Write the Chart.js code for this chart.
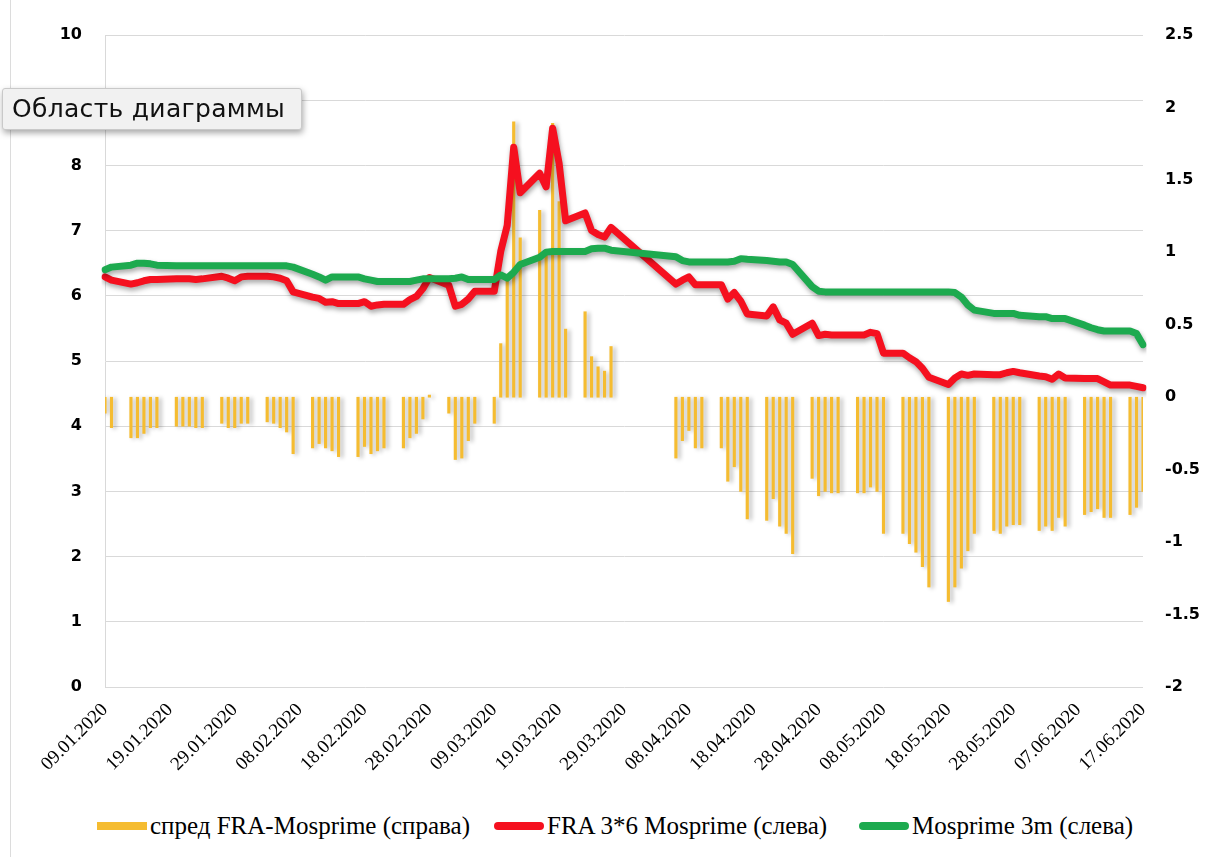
<!DOCTYPE html>
<html>
<head>
<meta charset="utf-8">
<script src="https://cdn.jsdelivr.net/npm/chart.js@4.4.1/dist/chart.umd.min.js"></script>
<style>
  body { margin: 0; background: #fff; }
  #wrap { position: relative; width: 1211px; height: 857px; overflow: hidden; }
  #frame { position: absolute; left: 10px; top: 0; width: 1px; height: 857px; background: #dcdcdc; }
  #chart { position: absolute; left: 0; top: 0; }
  .item { position: absolute; top: 811px; height: 30px; display: flex; align-items: center; white-space: nowrap;
          font-family: 'Liberation Serif', serif; font-size: 25px; color: #000; }
  .mark { display: inline-block; width: 50px; height: 8px; margin-right: 3px; }
  #tip { position: absolute; left: 2px; top: 88px; width: 300px; height: 42px; box-sizing: border-box;
         background: #f1f1f1; border: 1px solid #c9c9c9; border-radius: 3px;
         box-shadow: 1px 3px 6px rgba(0,0,0,0.35);
         font-family: 'DejaVu Sans', sans-serif; font-size: 25px; letter-spacing: 0.3px; line-height: 40px; padding-left: 9px; color: #111; }
</style>
</head>
<body>
<div id="wrap">
  <div id="frame"></div>
  <canvas id="chart" width="1211" height="790"></canvas>
  <div class="item" style="left:97px"><span class="mark" style="background:#F5BC31"></span>спред FRA-Mosprime (справа)</div>
  <div class="item" style="left:494px"><span class="mark" style="background:#F5101F;border-radius:4px"></span>FRA 3*6 Mosprime (слева)</div>
  <div class="item" style="left:859px"><span class="mark" style="background:#1DAA4F;border-radius:4px"></span>Mosprime 3m (слева)</div>
  <div id="tip">Область диаграммы</div>
</div>
<script>
// торговые дни (дд.мм, 2020)
const tradeDays = [
  '09.01','10.01',
  '13.01','14.01','15.01','16.01','17.01',
  '20.01','21.01','22.01','23.01','24.01',
  '27.01','28.01','29.01','30.01','31.01',
  '03.02','04.02','05.02','06.02','07.02',
  '10.02','11.02','12.02','13.02','14.02',
  '17.02','18.02','19.02','20.02','21.02',
  '24.02','25.02','26.02','27.02','28.02',
  '02.03','03.03','04.03','05.03','06.03',
  '09.03','10.03','11.03','12.03','13.03',
  '16.03','17.03','18.03','19.03','20.03',
  '23.03','24.03','25.03','26.03','27.03',
  '06.04','07.04','08.04','09.04','10.04',
  '13.04','14.04','15.04','16.04','17.04',
  '20.04','21.04','22.04','23.04','24.04',
  '27.04','28.04','29.04','30.04','01.05',
  '04.05','05.05','06.05','07.05','08.05',
  '11.05','12.05','13.05','14.05','15.05',
  '18.05','19.05','20.05','21.05','22.05',
  '25.05','26.05','27.05','28.05','29.05',
  '01.06','02.06','03.06','04.06','05.06',
  '08.06','09.06','10.06','11.06','12.06',
  '15.06','16.06','17.06'
];

// спред FRA-Mosprime (правая ось)
const spread = [
  -0.11, -0.21,
  -0.28, -0.28, -0.25, -0.21, -0.21,
  -0.20, -0.20, -0.20, -0.21, -0.21,
  -0.18, -0.21, -0.21, -0.18, -0.18,
  -0.17, -0.18, -0.21, -0.24, -0.39,
  -0.35, -0.32, -0.35, -0.37, -0.41,
  -0.41, -0.34, -0.39, -0.37, -0.35,
  -0.35, -0.28, -0.25, -0.15, 0.015,
  -0.11, -0.43, -0.42, -0.30, -0.18,
  -0.18, 0.37, 0.81, 1.90, 1.10,
  1.29, 1.00, 1.89, 1.35, 0.47,
  0.59, 0.28, 0.21, 0.18, 0.35,
  -0.42, -0.30, -0.23, -0.35, -0.35,
  -0.35, -0.58, -0.48, -0.65, -0.84,
  -0.85, -0.70, -0.89, -0.94, -1.08,
  -0.56, -0.68, -0.65, -0.66, -0.66,
  -0.66, -0.66, -0.62, -0.65, -0.94,
  -0.94, -1.01, -1.07, -1.17, -1.31,
  -1.41, -1.31, -1.18, -1.06, -0.94,
  -0.92, -0.94, -0.89, -0.88, -0.88,
  -0.92, -0.89, -0.92, -0.83, -0.89,
  -0.81, -0.79, -0.77, -0.83, -0.83,
  -0.81, -0.76, -0.65
];

// FRA 3*6 Mosprime (левая ось)
const fra36 = [
  6.29, 6.24,
  6.18, 6.20, 6.23, 6.25, 6.25,
  6.26, 6.26, 6.26, 6.25, 6.26,
  6.30, 6.27, 6.23, 6.29, 6.30,
  6.30, 6.29, 6.27, 6.23, 6.06,
  5.98, 5.96, 5.90, 5.91, 5.88,
  5.88, 5.91, 5.84, 5.86, 5.87,
  5.87, 5.94, 5.99, 6.11, 6.28,
  6.16, 5.84, 5.87, 5.95, 6.07,
  6.07, 6.68, 7.08, 8.28, 7.58,
  7.88, 7.67, 8.57, 8.03, 7.15,
  7.27, 7.00, 6.94, 6.90, 7.05,
  6.18, 6.24, 6.29, 6.17, 6.17,
  6.17, 5.95, 6.05, 5.92, 5.72,
  5.69, 5.83, 5.63, 5.58, 5.41,
  5.58, 5.39, 5.41, 5.40, 5.40,
  5.40, 5.40, 5.44, 5.42, 5.12,
  5.12, 5.05, 4.99, 4.89, 4.75,
  4.64, 4.74, 4.80, 4.78, 4.80,
  4.79, 4.79, 4.82, 4.84, 4.82,
  4.77, 4.76, 4.72, 4.80, 4.74,
  4.73, 4.73, 4.73, 4.68, 4.63,
  4.63, 4.61, 4.59
];

// Mosprime 3m (левая ось)
const mosprime3m = [
  6.40, 6.44,
  6.47, 6.50, 6.50, 6.49, 6.47,
  6.46, 6.46, 6.46, 6.46, 6.46,
  6.46, 6.46, 6.46, 6.46, 6.46,
  6.46, 6.46, 6.46, 6.46, 6.44,
  6.33, 6.29, 6.24, 6.29, 6.29,
  6.29, 6.26, 6.24, 6.22, 6.22,
  6.22, 6.22, 6.24, 6.26, 6.26,
  6.26, 6.27, 6.29, 6.25, 6.25,
  6.25, 6.32, 6.27, 6.36, 6.48,
  6.59, 6.67, 6.68, 6.68, 6.68,
  6.68, 6.72, 6.73, 6.73, 6.70,
  6.60, 6.54, 6.52, 6.52, 6.52,
  6.52, 6.52, 6.53, 6.57, 6.56,
  6.54, 6.53, 6.52, 6.52, 6.48,
  6.14, 6.07, 6.06, 6.06, 6.06,
  6.06, 6.06, 6.06, 6.06, 6.06,
  6.06, 6.06, 6.06, 6.06, 6.06,
  6.06, 6.05, 5.98, 5.86, 5.78,
  5.73, 5.73, 5.73, 5.73, 5.70,
  5.68, 5.68, 5.65, 5.65, 5.65,
  5.55, 5.51, 5.48, 5.46, 5.46,
  5.46, 5.42, 5.25
];

const START_DATE = new Date(2020, 0, 9);
const END_DATE = new Date(2020, 5, 17);
const TICK_EVERY = 10; // подпись каждые 10 дней

function fmt(d) {
  const dd = String(d.getDate()).padStart(2, '0');
  const mm = String(d.getMonth() + 1).padStart(2, '0');
  return dd + '.' + mm + '.' + d.getFullYear();
}

// календарная ось: все дни, выходные пустые
const labels = [];
for (let d = new Date(START_DATE); d <= END_DATE; d.setDate(d.getDate() + 1)) labels.push(fmt(d));

function byDay(values) {
  return labels.map(l => {
    const i = tradeDays.indexOf(l.slice(0, 5));
    return i < 0 ? null : values[i];
  });
}

// тени, как в Excel
const shadowPlugin = {
  id: 'shadow',
  beforeDatasetDraw(chart, args) {
    const ctx = chart.ctx;
    ctx.save();
    if (args.meta.type === 'bar') {
      ctx.shadowColor = 'rgba(0,0,0,0.28)';
      ctx.shadowBlur = 4;
      ctx.shadowOffsetX = 3;
      ctx.shadowOffsetY = 1;
    } else {
      ctx.shadowColor = 'rgba(0,0,0,0.35)';
      ctx.shadowBlur = 5;
      ctx.shadowOffsetX = 1;
      ctx.shadowOffsetY = 3;
    }
  },
  afterDatasetDraw(chart) {
    chart.ctx.restore();
  }
};

const tickFont = { family: 'DejaVu Sans', size: 16, weight: 'bold' };

new Chart(document.getElementById('chart').getContext('2d'), {
  type: 'bar',
  data: {
    labels: labels,
    datasets: [
      {
        type: 'bar',
        label: 'спред FRA-Mosprime (справа)',
        data: byDay(spread),
        yAxisID: 'y1',
        backgroundColor: '#F5BC31',
        barThickness: 2.5,
        order: 3
      },
      {
        type: 'line',
        label: 'FRA 3*6 Mosprime (слева)',
        data: byDay(fra36),
        yAxisID: 'y',
        borderColor: '#F5101F',
        borderWidth: 7,
        borderJoinStyle: 'round',
        borderCapStyle: 'round',
        pointRadius: 0,
        tension: 0,
        spanGaps: true,
        order: 2
      },
      {
        type: 'line',
        label: 'Mosprime 3m (слева)',
        data: byDay(mosprime3m),
        yAxisID: 'y',
        borderColor: '#1DAA4F',
        borderWidth: 7,
        borderJoinStyle: 'round',
        borderCapStyle: 'round',
        pointRadius: 0,
        tension: 0,
        spanGaps: true,
        order: 1
      }
    ]
  },
  options: {
    responsive: false,
    animation: false,
    layout: { padding: { top: 35, left: 0, right: 0, bottom: 0 } },
    plugins: { legend: { display: false }, tooltip: { enabled: false } },
    scales: {
      x: {
        type: 'category',
        offset: false,
        grid: { display: false, offset: false, drawTicks: false },
        border: { display: false },
        ticks: {
          autoSkip: false,
          maxRotation: 45,
          minRotation: 45,
          padding: 12,
          color: '#000',
          font: { family: 'Liberation Serif', size: 19 },
          callback: (v, i) => (i % TICK_EVERY === 0 ? labels[i] : '')
        },
        afterFit: s => { s.height = 103; }
      },
      y: {
        position: 'left',
        min: 0,
        max: 10,
        grid: { color: '#d9d9d9', lineWidth: 1, drawTicks: false },
        border: { display: true, color: '#d9d9d9' },
        ticks: { stepSize: 1, padding: 23, color: '#000', font: tickFont },
        afterFit: s => { s.width = 105; }
      },
      y1: {
        position: 'right',
        min: -2,
        max: 2.5,
        grid: { display: false, drawTicks: false },
        border: { display: false },
        ticks: { stepSize: 0.5, padding: 22, color: '#000', font: tickFont, callback: v => String(v) },
        afterFit: s => { s.width = 68; }
      }
    }
  },
  plugins: [shadowPlugin]
});
</script>
</body>
</html>
